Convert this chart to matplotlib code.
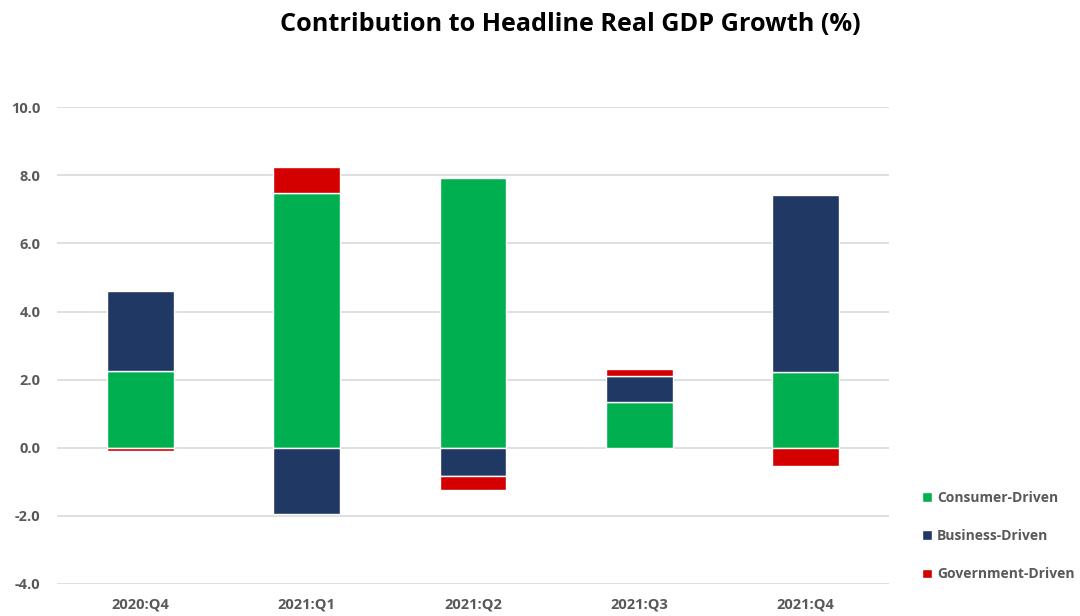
import numpy as np
import matplotlib
matplotlib.use('Agg')
import matplotlib.pyplot as plt

# データ
quarters = ['2020:Q4', '2021:Q1', '2021:Q2', '2021:Q3', '2021:Q4']
consumer = [2.24, 7.47, 7.93, 1.33, 2.22]
business = [2.37, -1.94, -0.84, 0.79, 5.20]
government = [-0.10, 0.76, -0.39, 0.19, -0.53]

series_names = ['Consumer-Driven', 'Business-Driven', 'Government-Driven']
series_colors = ['#00B050', '#203864', '#D40000']

plt.rcParams['font.family'] = ['Open Sans', 'DejaVu Sans']
text_grey = '#595959'

fig = plt.figure(figsize=(10.8, 6.16), dpi=100)
ax = fig.add_axes([0.053, 0.052, 0.770, 0.774])

x = np.arange(len(quarters))
width = 0.4

# 正の値は上に、負の値は下に積み上げ（Excel方式）
pos_base = np.zeros(len(quarters))
neg_base = np.zeros(len(quarters))
handles = []
for values, name, color in zip([consumer, business, government], series_names, series_colors):
    values = np.array(values)
    bottoms = np.where(values >= 0, pos_base, neg_base)
    bars = ax.bar(x, values, width=width, bottom=bottoms, color=color,
                  edgecolor='white', linewidth=1.0, label=name, zorder=3)
    handles.append(bars)
    pos_base += np.where(values >= 0, values, 0)
    neg_base += np.where(values < 0, values, 0)

ax.set_xlim(-0.5, len(quarters) - 0.5)
ax.set_ylim(-4, 10)
ax.set_yticks(np.arange(-4, 10.1, 2))
ax.set_yticklabels([f'{v:.1f}' for v in np.arange(-4, 10.1, 2)])
ax.set_xticks(x)
ax.set_xticklabels(quarters)

ax.grid(axis='y', color='#d9d9d9', linewidth=1.2, zorder=0)
for spine in ax.spines.values():
    spine.set_visible(False)
ax.tick_params(axis='both', length=0, labelsize=10.5, labelcolor=text_grey)
ax.tick_params(axis='y', pad=12)
ax.tick_params(axis='x', pad=10)
for lbl in ax.get_xticklabels() + ax.get_yticklabels():
    lbl.set_fontweight('bold')

fig.text(0.528, 0.960, 'Contribution to Headline Real GDP Growth (%)',
         ha='center', va='center', fontsize=18.2, fontweight='bold', color='black')

leg = fig.legend(handles=handles, labels=series_names, loc='center left',
                 bbox_to_anchor=(0.842, 0.13), frameon=False,
                 prop={'size': 10, 'weight': 'bold'}, labelcolor=text_grey,
                 handlelength=0.7, handleheight=0.7, handletextpad=0.4,
                 labelspacing=1.75)

fig.savefig('out.png', dpi=100)
